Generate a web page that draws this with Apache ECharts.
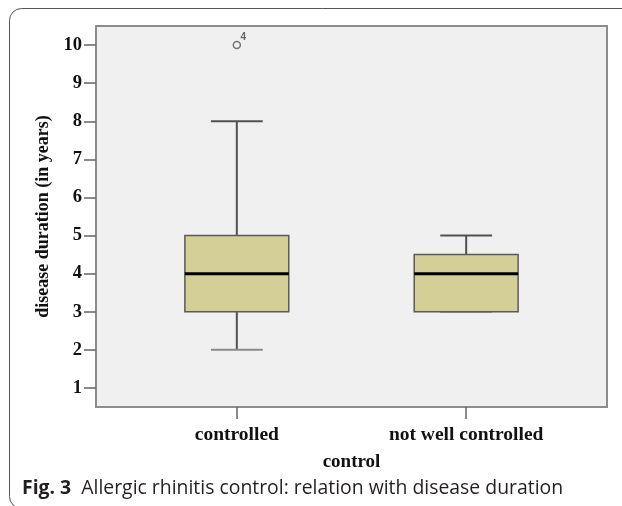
<!DOCTYPE html>
<html>
<head>
<meta charset="utf-8">
<script src="https://cdn.jsdelivr.net/npm/echarts@6/dist/echarts.min.js"></script>
<style>
  html, body { margin: 0; padding: 0; background: #ffffff; }
  #chart { width: 622px; height: 506px; }
</style>
</head>
<body>
<div id="chart"></div>
<script>
// Disease duration (years) by allergic rhinitis control group
const categories = ['controlled', 'not well controlled'];
const whiskerLow = [2, 3];
const quartile1 = [3, 3];
const medians = [4, 4];
const quartile3 = [5, 4.5];
const whiskerHigh = [8, 5];
// outlier: group position, value, case number
const outlierGroup = [1];
const outlierValue = [10];
const outlierCase = ['4'];
const yTicks = [1, 2, 3, 4, 5, 6, 7, 8, 9, 10];
const xTicks = [1, 2];

const serif = '"Liberation Serif", "Times New Roman", serif';
const boxData = categories.map((c, i) => [i + 1, whiskerLow[i], quartile1[i], medians[i], quartile3[i], whiskerHigh[i]]);
const outlierData = outlierGroup.map((g, i) => [g, outlierValue[i], outlierCase[i]]);

const BOX_W = 0.453;   // box width in group units
const CAP_W = 0.226;   // whisker cap width in group units

const chart = echarts.init(document.getElementById('chart'), null, { renderer: 'canvas' });

chart.setOption({
  animation: false,
  backgroundColor: '#ffffff',
  grid: {
    left: 96, right: 15, top: 26, bottom: 99,
    show: true,
    backgroundColor: '#f0f0f0',
    borderColor: '#8c8c8c',
    borderWidth: 2
  },
  xAxis: {
    type: 'value',
    min: 0.386,
    max: 2.614,
    name: 'control',
    nameLocation: 'middle',
    nameGap: 46,
    nameTextStyle: { fontFamily: serif, fontWeight: 'bold', fontSize: 19, color: '#111' },
    splitLine: { show: false },
    axisLine: { show: true, onZero: false, lineStyle: { color: '#8c8c8c', width: 2 } },
    axisTick: { show: true, length: 12, customValues: xTicks, lineStyle: { color: '#666', width: 1.5 } },
    axisLabel: {
      customValues: xTicks,
      margin: 18,
      formatter: v => categories[Math.round(v) - 1] || '',
      fontFamily: serif, fontWeight: 'bold', fontSize: 19.5, color: '#111'
    }
  },
  yAxis: {
    type: 'value',
    min: 0.5,
    max: 10.5,
    name: 'disease duration (in years)',
    nameLocation: 'middle',
    nameGap: 41,
    nameTextStyle: { fontFamily: serif, fontWeight: 'bold', fontSize: 18, color: '#111' },
    splitLine: { show: false },
    axisLine: { show: true, onZero: false, lineStyle: { color: '#8c8c8c', width: 2 } },
    axisTick: { show: true, length: 12, customValues: yTicks, lineStyle: { color: '#666', width: 1.5 } },
    axisLabel: {
      customValues: yTicks,
      margin: 14,
      fontFamily: serif, fontWeight: 'bold', fontSize: 18.5, color: '#111'
    }
  },
  series: [
    {
      type: 'custom',
      data: boxData,
      renderItem: function (params, api) {
        const x = api.value(0);
        const pLow = api.coord([x, api.value(1)]);
        const pQ1 = api.coord([x, api.value(2)]);
        const pMed = api.coord([x, api.value(3)]);
        const pQ3 = api.coord([x, api.value(4)]);
        const pHigh = api.coord([x, api.value(5)]);
        const bw = api.size([BOX_W, 0])[0];
        const cw = api.size([CAP_W, 0])[0];
        const cx = pMed[0];
        const line = { stroke: '#505050', lineWidth: 2 };
        return {
          type: 'group',
          children: [
            { type: 'line', shape: { x1: cx, y1: pQ3[1], x2: cx, y2: pHigh[1] }, style: line },
            { type: 'line', shape: { x1: cx, y1: pQ1[1], x2: cx, y2: pLow[1] }, style: line },
            { type: 'line', shape: { x1: cx - cw / 2, y1: pHigh[1], x2: cx + cw / 2, y2: pHigh[1] }, style: line },
            { type: 'line', shape: { x1: cx - cw / 2, y1: pLow[1], x2: cx + cw / 2, y2: pLow[1] }, style: { stroke: '#8a8a8a', lineWidth: 2 } },
            {
              type: 'rect',
              shape: { x: cx - bw / 2, y: pQ3[1], width: bw, height: pQ1[1] - pQ3[1] },
              style: { fill: '#d4cf97', stroke: '#5a5a5a', lineWidth: 1.5 }
            },
            { type: 'line', shape: { x1: cx - bw / 2, y1: pMed[1], x2: cx + bw / 2, y2: pMed[1] }, style: { stroke: '#000000', lineWidth: 3 } }
          ]
        };
      }
    },
    {
      type: 'scatter',
      data: outlierData,
      symbol: 'circle',
      symbolSize: 7,
      itemStyle: { color: '#f0f0f0', borderColor: '#555', borderWidth: 1.5 },
      label: {
        show: true,
        formatter: p => p.data[2],
        position: [8, -9],
        fontFamily: '"Liberation Sans", Arial, sans-serif',
        fontSize: 10,
        fontWeight: 'bold',
        color: '#444'
      }
    }
  ],
  graphic: [
    {
      type: 'rect',
      silent: true,
      shape: { x: 9.5, y: 8.5, width: 700, height: 500, r: 12 },
      style: { fill: 'none', stroke: '#555555', lineWidth: 1 }
    },
    {
      type: 'text',
      left: 22,
      top: 479,
      style: {
        text: '{b|Fig. 3}  Allergic rhinitis control: relation with disease duration',
        fontFamily: '"Open Sans", "Noto Sans", sans-serif',
        fontSize: 19.4,
        fill: '#231f20',
        rich: {
          b: { fontFamily: '"Open Sans", "Noto Sans", sans-serif', fontSize: 19.4, fontWeight: 'bold', fill: '#231f20' }
        }
      }
    }
  ]
});
</script>
</body>
</html>
